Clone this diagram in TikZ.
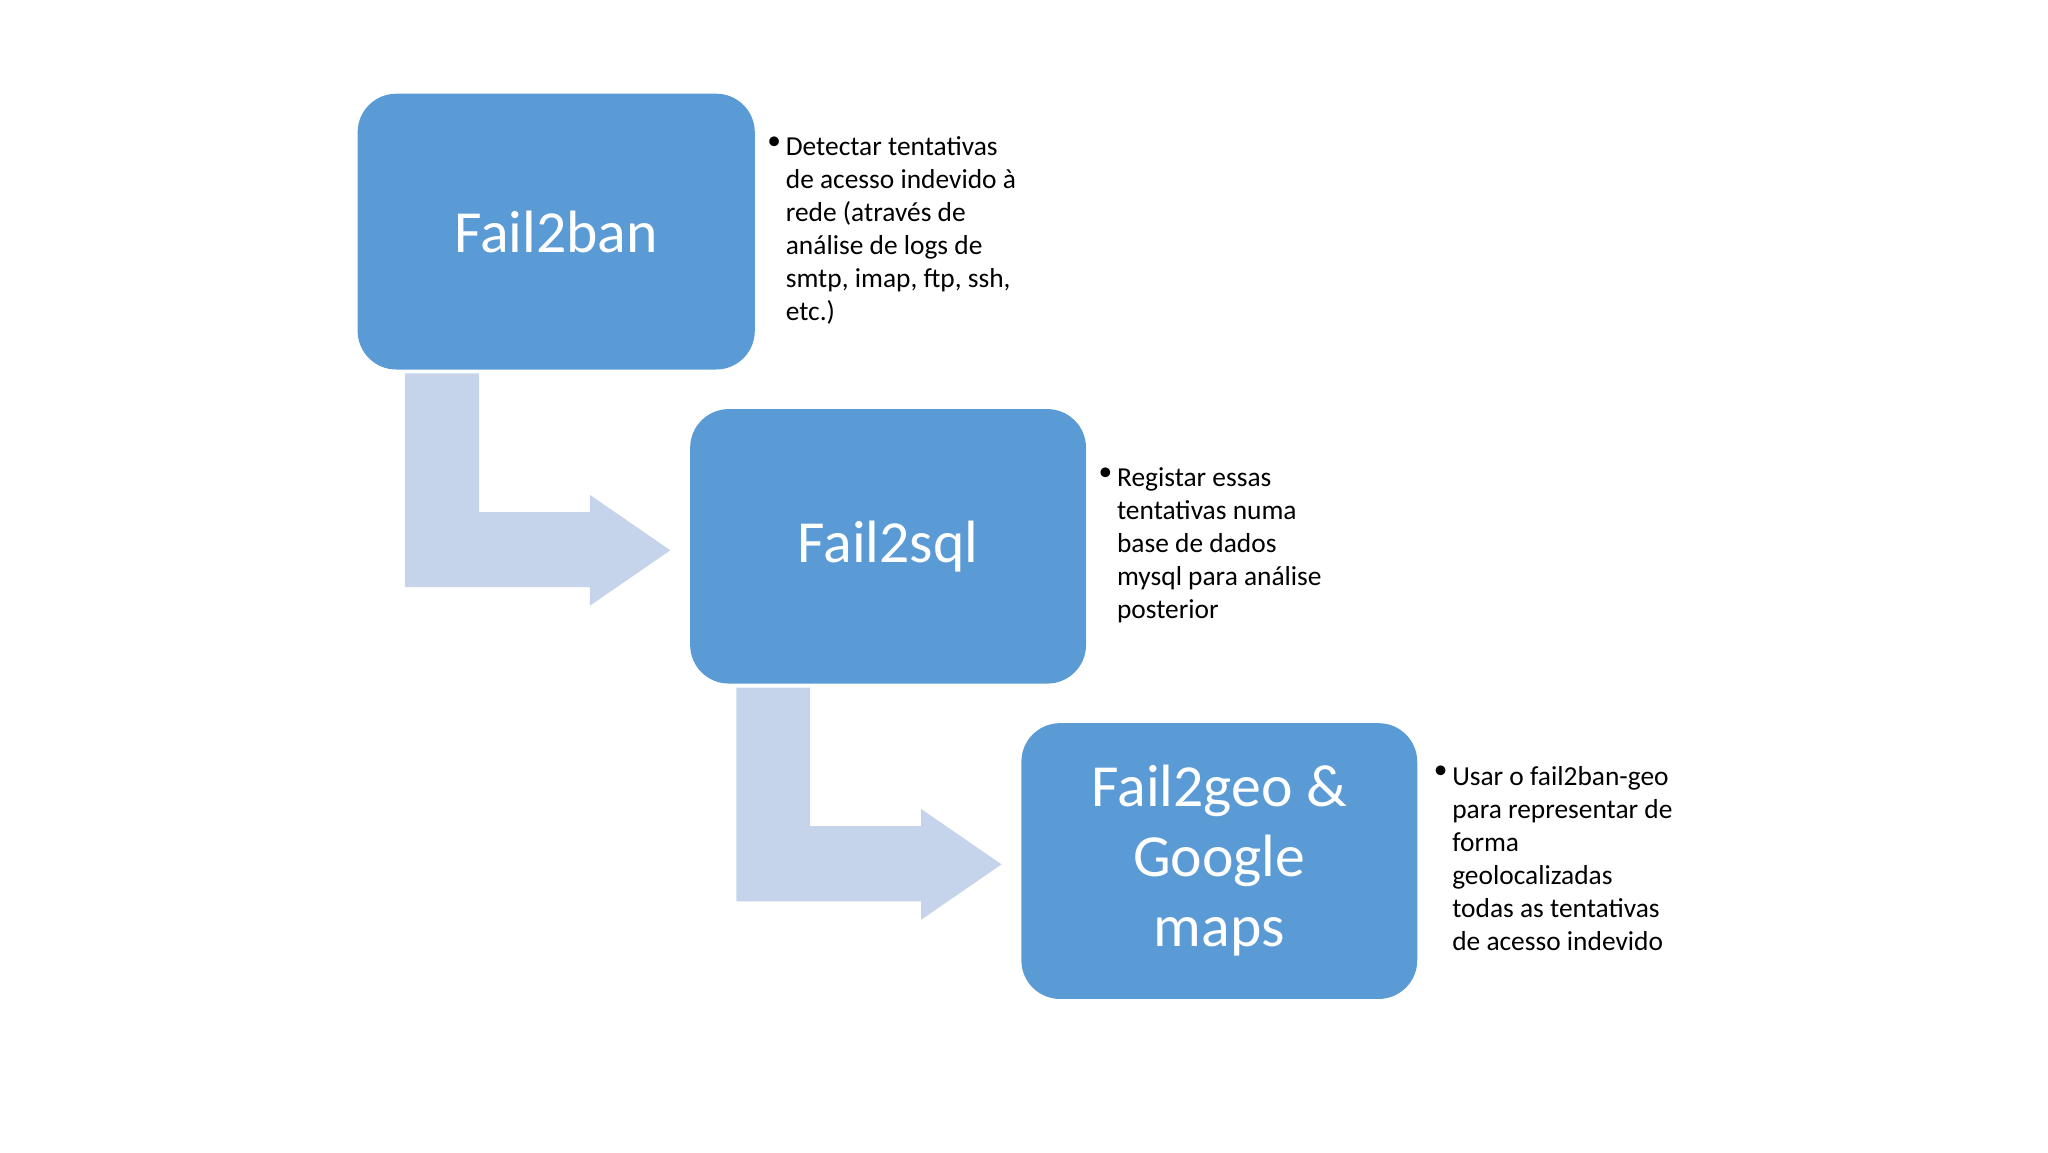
\documentclass[tikz,border=0pt]{standalone}
\usepackage{fontspec}
\setmainfont{Carlito}
\definecolor{boxc}{HTML}{5B9BD5}
\definecolor{arrc}{HTML}{C5D4EA}
\begin{document}
\begin{tikzpicture}[x=0.013196cm,y=-0.013196cm,
  boxst/.style={fill=boxc,draw=none,rounded corners=11pt},
  titlest/.style={text=white,font=\fontsize{17}{20}\selectfont,align=center},
  bul/.style={anchor=north west,font=\fontsize{7.8}{9.4}\selectfont,inner sep=0pt},
  txt/.style={anchor=north west,font=\fontsize{7.8}{9.4}\selectfont,align=left,inner sep=0pt}]
\useasboundingbox (0,0) rectangle (1552,873);
\foreach \dx/\dy in {0/0,251/238}{
  \fill[arrc] (307+\dx,283+\dy) -- (363+\dx,283+\dy) -- (363+\dx,388+\dy) -- (447+\dx,388+\dy) -- (447+\dx,375+\dy) -- (508+\dx,417+\dy) -- (447+\dx,459+\dy) -- (447+\dx,445+\dy) -- (307+\dx,445+\dy) -- cycle;
}
\fill[boxst] (271,71) rectangle (572,280);
\fill[boxst] (523,310) rectangle (823,518);
\fill[boxst] (774,548) rectangle (1074,757);
\node[titlest] (b1) at (421.5,175.5) {Fail2ban};
\node[titlest] (b2) at (673,414) {Fail2sql};
\node[titlest] (b3) at (924,652) {Fail2geo \&\\Google\\maps};
\node[bul] (u1) at (581,103) {•};
\node[txt] (t1) at (595,103) {Detectar tentativas\\de acesso indevido à\\rede (através de\\análise de logs de\\smtp, imap, ftp, ssh,\\etc.)};
\node[bul] (u2) at (832,354) {•};
\node[txt] (t2) at (846,354) {Registar essas\\tentativas numa\\base de dados\\mysql para análise\\posterior};
\node[bul] (u3) at (1086,580) {•};
\node[txt] (t3) at (1100,580) {Usar o fail2ban-geo\\para representar de\\forma\\geolocalizadas\\todas as tentativas\\de acesso indevido};
\end{tikzpicture}
\end{document}
